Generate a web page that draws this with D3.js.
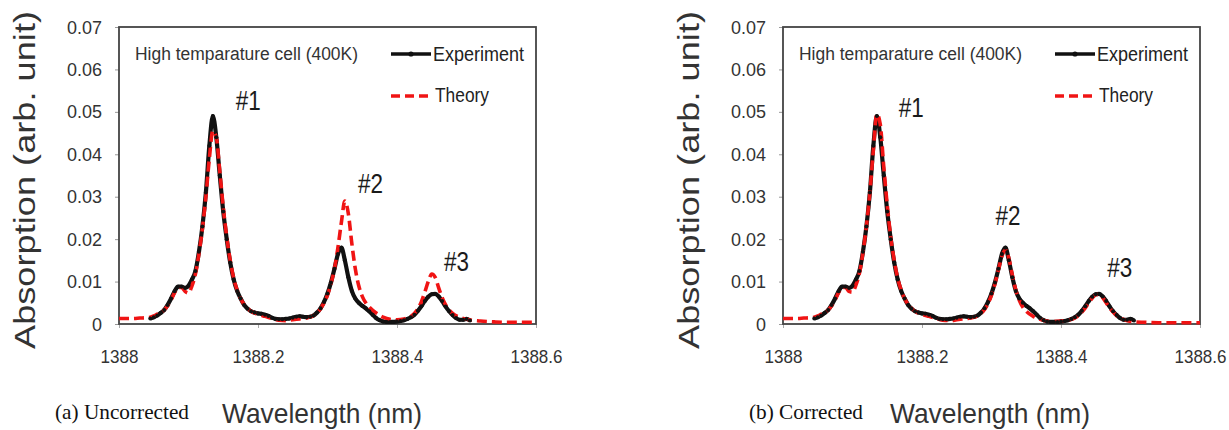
<!DOCTYPE html>
<html>
<head>
<meta charset="utf-8">
<script src="https://cdn.jsdelivr.net/npm/d3@7"></script>
<style>
  body { margin: 0; background: #fff; }
  text { font-family: "Liberation Sans", Arial, sans-serif; }
</style>
</head>
<body>
<script>
// measured experiment (same trace in both panels)
const experiment = [
  [1388.045,0.0013],[1388.05,0.0016],[1388.055,0.0020],[1388.06,0.0026],[1388.065,0.0033],
  [1388.07,0.0045],[1388.075,0.0060],[1388.08,0.0077],[1388.085,0.0088],[1388.09,0.0088],
  [1388.095,0.0085],[1388.10,0.0090],[1388.105,0.0105],[1388.11,0.0125],[1388.115,0.0170],
  [1388.12,0.0230],[1388.125,0.0310],[1388.13,0.0420],[1388.135,0.0490],[1388.14,0.0440],
  [1388.145,0.0350],[1388.15,0.0265],[1388.155,0.0200],[1388.16,0.0145],[1388.165,0.0105],
  [1388.17,0.0078],[1388.175,0.0060],[1388.18,0.0045],[1388.185,0.0036],[1388.19,0.0030],
  [1388.195,0.0027],[1388.20,0.0025],[1388.205,0.0024],[1388.21,0.0022],[1388.215,0.0019],
  [1388.22,0.0015],[1388.225,0.0012],[1388.23,0.0011],[1388.235,0.0011],[1388.24,0.0012],
  [1388.245,0.0013],[1388.25,0.0015],[1388.255,0.0017],[1388.26,0.0018],[1388.265,0.0017],
  [1388.27,0.0016],[1388.275,0.0017],[1388.28,0.0020],[1388.285,0.0027],[1388.29,0.0037],
  [1388.295,0.0052],[1388.30,0.0072],[1388.305,0.0098],[1388.31,0.0130],[1388.315,0.0165],
  [1388.32,0.0180],[1388.325,0.0150],[1388.33,0.0110],[1388.335,0.0078],[1388.34,0.0060],
  [1388.345,0.0050],[1388.35,0.0043],[1388.355,0.0037],[1388.36,0.0030],[1388.365,0.0022],
  [1388.37,0.0014],[1388.375,0.0009],[1388.38,0.0006],[1388.385,0.0005],[1388.39,0.0005],
  [1388.395,0.0005],[1388.40,0.0006],[1388.405,0.0007],[1388.41,0.0009],[1388.415,0.0012],
  [1388.42,0.0016],[1388.425,0.0022],[1388.43,0.0031],[1388.435,0.0042],[1388.44,0.0054],
  [1388.445,0.0064],[1388.45,0.0070],[1388.455,0.0071],[1388.46,0.0065],[1388.465,0.0054],
  [1388.47,0.0041],[1388.475,0.0030],[1388.48,0.0021],[1388.485,0.0014],[1388.49,0.0010],
  [1388.495,0.0010],[1388.50,0.0012],[1388.505,0.0008]
];

const theoryUncorrected = [
  [1388.00,0.0013],[1388.02,0.0013],[1388.03,0.0014],[1388.04,0.0015],[1388.045,0.0016],
  [1388.05,0.0019],[1388.055,0.0023],[1388.06,0.0027],[1388.065,0.0033],[1388.07,0.0043],
  [1388.075,0.0057],[1388.08,0.0074],[1388.085,0.0086],[1388.09,0.0086],[1388.095,0.0077],
  [1388.10,0.0073],[1388.105,0.0090],[1388.11,0.0118],[1388.115,0.0165],[1388.12,0.0225],
  [1388.125,0.0300],[1388.13,0.0390],[1388.135,0.0455],[1388.14,0.0440],[1388.145,0.0360],
  [1388.15,0.0275],[1388.155,0.0205],[1388.16,0.0150],[1388.165,0.0108],[1388.17,0.0080],
  [1388.175,0.0060],[1388.18,0.0046],[1388.185,0.0037],[1388.19,0.0030],[1388.195,0.0026],
  [1388.20,0.0023],[1388.21,0.0018],[1388.22,0.0013],[1388.23,0.0009],[1388.24,0.0008],
  [1388.25,0.0010],[1388.26,0.0012],[1388.27,0.0014],[1388.28,0.0020],[1388.285,0.0026],
  [1388.29,0.0036],[1388.295,0.0050],[1388.30,0.0068],[1388.305,0.0095],[1388.31,0.0130],
  [1388.315,0.0180],[1388.32,0.0240],[1388.325,0.0290],[1388.33,0.0260],[1388.335,0.0190],
  [1388.34,0.0130],[1388.345,0.0090],[1388.35,0.0065],[1388.355,0.0050],[1388.36,0.0040],
  [1388.37,0.0026],[1388.38,0.0016],[1388.39,0.0011],[1388.40,0.0010],[1388.41,0.0012],
  [1388.42,0.0018],[1388.425,0.0025],[1388.43,0.0036],[1388.435,0.0052],[1388.44,0.0075],
  [1388.445,0.0100],[1388.45,0.0118],[1388.455,0.0110],[1388.46,0.0085],[1388.465,0.0062],
  [1388.47,0.0045],[1388.475,0.0033],[1388.48,0.0025],[1388.49,0.0016],[1388.50,0.0011],
  [1388.52,0.0007],[1388.54,0.0005],[1388.56,0.0004],[1388.58,0.0004],[1388.60,0.0004]
];

const theoryCorrected = [
  [1388.00,0.0013],[1388.02,0.0013],[1388.03,0.0014],[1388.04,0.0015],[1388.045,0.0016],
  [1388.05,0.0019],[1388.055,0.0023],[1388.06,0.0027],[1388.065,0.0033],[1388.07,0.0043],
  [1388.075,0.0057],[1388.08,0.0074],[1388.085,0.0086],[1388.09,0.0086],[1388.095,0.0077],
  [1388.10,0.0075],[1388.105,0.0092],[1388.11,0.0120],[1388.115,0.0168],[1388.12,0.0230],
  [1388.125,0.0310],[1388.13,0.0410],[1388.135,0.0495],[1388.14,0.0470],[1388.145,0.0370],
  [1388.15,0.0280],[1388.155,0.0205],[1388.16,0.0150],[1388.165,0.0108],[1388.17,0.0080],
  [1388.175,0.0060],[1388.18,0.0046],[1388.185,0.0037],[1388.19,0.0030],[1388.195,0.0026],
  [1388.20,0.0023],[1388.21,0.0018],[1388.22,0.0013],[1388.23,0.0009],[1388.24,0.0008],
  [1388.25,0.0010],[1388.26,0.0012],[1388.27,0.0014],[1388.28,0.0019],[1388.285,0.0025],
  [1388.29,0.0034],[1388.295,0.0048],[1388.30,0.0068],[1388.305,0.0095],[1388.31,0.0128],
  [1388.315,0.0160],[1388.32,0.0175],[1388.325,0.0155],[1388.33,0.0115],[1388.335,0.0080],
  [1388.34,0.0056],[1388.345,0.0040],[1388.35,0.0030],[1388.36,0.0018],[1388.37,0.0011],
  [1388.38,0.0007],[1388.39,0.0006],[1388.40,0.0007],[1388.41,0.0009],[1388.42,0.0014],
  [1388.425,0.0020],[1388.43,0.0028],[1388.435,0.0038],[1388.44,0.0050],[1388.445,0.0061],
  [1388.45,0.0069],[1388.455,0.0070],[1388.46,0.0062],[1388.465,0.0050],[1388.47,0.0038],
  [1388.475,0.0028],[1388.48,0.0020],[1388.49,0.0011],[1388.50,0.0006],[1388.52,0.0004],
  [1388.54,0.0003],[1388.56,0.0003],[1388.58,0.0003],[1388.60,0.0003]
];

const xTicks = [1388, 1388.2, 1388.4, 1388.6];
const yTicks = [0, 0.01, 0.02, 0.03, 0.04, 0.05, 0.06, 0.07];
const peakNames = ["#1", "#2", "#3"];
// where each peak label sits, in data units [wavelength, absorption]
const peakSpotsA = [[1388.168, 0.0504], [1388.344, 0.0309], [1388.4676, 0.0125]];
const peakSpotsB = [[1388.1665, 0.0489], [1388.3057, 0.0233], [1388.4665, 0.0110]];

const W = 1229, H = 430;
const pw = 417, ph = 297;
const RED = "#f01414";

const svg = d3.select("body").append("svg")
  .attr("width", W)
  .attr("height", H);

const panels = [
  { left: 119, theory: theoryUncorrected, spots: peakSpotsA, caption: "(a) Uncorrected", capX: 55, capW: 134, wlX: 222 },
  { left: 783, theory: theoryCorrected, spots: peakSpotsB, caption: "(b) Corrected", capX: 749, capW: 114, wlX: 890 }
];

const xScale = d3.scaleLinear().domain([1388, 1388.6]).range([0, pw]);
const yScale = d3.scaleLinear().domain([0, 0.07]).range([ph, 0]);

const line = d3.line()
  .x(d => xScale(d[0]))
  .y(d => yScale(d[1]))
  .curve(d3.curveMonotoneX);

panels.forEach(p => {
  const g = svg.append("g").attr("transform", `translate(${p.left}, 27)`);

  // axes
  const yAxis = d3.axisLeft(yScale)
    .tickValues(yTicks)
    .tickSize(4)
    .tickPadding(13)
    .tickFormat(d => d == 0 ? "0" : d.toFixed(2));
  const ya = g.append("g").call(yAxis);
  ya.select(".domain").remove();
  ya.selectAll("line").attr("stroke", "#999");
  ya.selectAll("text")
    .attr("fill", "#333")
    .style("font-size", "19px")
    .attr("textLength", d => d == 0 ? 10 : 35)
    .attr("lengthAdjust", "spacingAndGlyphs");

  const xAxis = d3.axisBottom(xScale)
    .tickValues(xTicks)
    .tickSize(4)
    .tickPadding(22)
    .tickFormat(d => d == 1388 ? "1388" : d.toFixed(1));
  const xa = g.append("g").attr("transform", `translate(0, ${ph})`).call(xAxis);
  xa.select(".domain").remove();
  xa.selectAll("line").attr("stroke", "#aaa");
  xa.selectAll("text")
    .attr("fill", "#333")
    .style("font-size", "19px")
    .attr("textLength", d => d == 1388 ? 38 : 52)
    .attr("lengthAdjust", "spacingAndGlyphs");

  // frame
  g.append("rect")
    .attr("width", pw).attr("height", ph)
    .attr("fill", "none")
    .attr("stroke", "#444")
    .attr("stroke-width", 1.8);

  // experiment
  g.append("path")
    .datum(experiment)
    .attr("d", line)
    .attr("fill", "none")
    .attr("stroke", "#111")
    .attr("stroke-width", 4.2);

  // theory
  g.append("path")
    .datum(p.theory)
    .attr("d", line)
    .attr("fill", "none")
    .attr("stroke", RED)
    .attr("stroke-width", 3.6)
    .attr("stroke-dasharray", "10,5");

  g.append("g")
    .selectAll("circle")
    .data(experiment)
    .enter()
    .append("circle")
    .attr("cx", d => xScale(d[0]))
    .attr("cy", d => yScale(d[1]))
    .attr("r", 2)
    .attr("fill", "#111");

  // peak labels
  g.selectAll(".peak")
    .data(p.spots)
    .enter()
    .append("text")
    .attr("class", "peak")
    .attr("x", d => xScale(d[0]))
    .attr("y", d => yScale(d[1]))
    .attr("fill", "#1a1a1a")
    .style("font-size", "27px")
    .attr("textLength", 25)
    .attr("lengthAdjust", "spacingAndGlyphs")
    .text((d, i) => peakNames[i]);

  // inner title + legend
  g.append("text")
    .attr("x", 16).attr("y", 33)
    .attr("fill", "#333")
    .style("font-size", "18px")
    .attr("textLength", 223)
    .attr("lengthAdjust", "spacingAndGlyphs")
    .text("High temparature cell (400K)");

  const legend = g.append("g").attr("transform", "translate(272, 0)");
  legend.append("line")
    .attr("x1", 0).attr("x2", 40).attr("y1", 27).attr("y2", 27)
    .attr("stroke", "#111").attr("stroke-width", 3.6);
  legend.append("circle")
    .attr("cx", 20).attr("cy", 27).attr("r", 2.6).attr("fill", "#111");
  legend.append("text")
    .attr("x", 42).attr("y", 34)
    .attr("fill", "#222")
    .style("font-size", "20px")
    .attr("textLength", 91)
    .attr("lengthAdjust", "spacingAndGlyphs")
    .text("Experiment");
  legend.append("line")
    .attr("x1", 0).attr("x2", 40).attr("y1", 69).attr("y2", 69)
    .attr("stroke", RED).attr("stroke-width", 3.4)
    .attr("stroke-dasharray", "9,5");
  legend.append("text")
    .attr("x", 44).attr("y", 75)
    .attr("fill", "#222")
    .style("font-size", "20px")
    .attr("textLength", 54)
    .attr("lengthAdjust", "spacingAndGlyphs")
    .text("Theory");

  // y title
  svg.append("text")
    .attr("transform", `translate(${p.left - 95}, 180) rotate(-90)`)
    .attr("text-anchor", "middle")
    .attr("dy", "0.35em")
    .attr("fill", "#333")
    .style("font-size", "30px")
    .attr("textLength", 338)
    .attr("lengthAdjust", "spacingAndGlyphs")
    .text("Absorption (arb. unit)");

  // x title + caption
  svg.append("text")
    .attr("x", p.wlX).attr("y", 423)
    .attr("fill", "#333")
    .style("font-size", "28px")
    .attr("textLength", 200)
    .attr("lengthAdjust", "spacingAndGlyphs")
    .text("Wavelength (nm)");

  svg.append("text")
    .attr("x", p.capX).attr("y", 419)
    .attr("fill", "#111")
    .style("font-family", "'Liberation Serif', 'Times New Roman', serif")
    .style("font-size", "21px")
    .attr("textLength", p.capW)
    .attr("lengthAdjust", "spacingAndGlyphs")
    .text(p.caption);
});
</script>
</body>
</html>
